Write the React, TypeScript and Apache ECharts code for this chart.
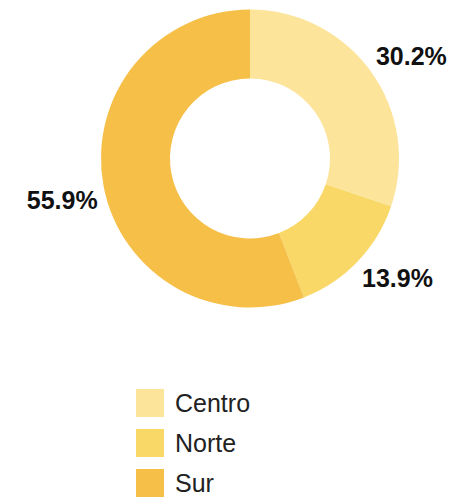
import React, { useEffect, useRef } from "react";
import * as echarts from "echarts";

const categories = ["Centro", "Norte", "Sur"];
const values = [30.2, 13.9, 55.9];
const colors = ["#FCE49B", "#F9D868", "#F6BF47"];

export default function App() {
  const ref = useRef<HTMLDivElement>(null);
  useEffect(() => {
    if (!ref.current) return;
    const chart = echarts.init(ref.current, null, { renderer: "svg" });
    const font = "'Liberation Sans', Arial, sans-serif";
    chart.setOption({
      animation: false,
      legend: {
        orient: "vertical",
        left: 136,
        top: 389,
        padding: 0,
        itemWidth: 28,
        itemHeight: 28,
        itemGap: 12,
        icon: "rect",
        data: categories,
        textStyle: {
          fontFamily: font,
          fontSize: 25,
          color: "#222222",
          padding: [0, 0, 0, 6],
        },
      },
      series: [
        {
          type: "pie",
          center: [250, 158.5],
          radius: [80, 149],
          startAngle: 90,
          clockwise: true,
          avoidLabelOverlap: false,
          itemStyle: { borderWidth: 0 },
          label: {
            show: true,
            position: "outside",
            fontFamily: font,
            fontSize: 25,
            fontWeight: "bold",
            color: "#111111",
            formatter: (p: any) => `${Number(p.value).toFixed(1)}%`,
          },
          labelLine: {
            show: true,
            length: 6,
            length2: 0,
            lineStyle: { color: "rgba(0,0,0,0)", width: 0 },
          },
          labelLayout: (p: any) => {
            const pts = p.labelLinePoints;
            if (!pts || pts.length < 2) return {};
            const [ex, ey] = pts[0];
            const [x, y] = pts[1];
            const dx = x - ex;
            const dy = y - ey;
            return {
              x,
              y,
              align: dx >= 0 ? "left" : "right",
              verticalAlign: dy >= 0 ? "top" : "bottom",
            };
          },
          emphasis: { disabled: true },
          data: categories.map((name, i) => ({
            name,
            value: values[i],
            itemStyle: { color: colors[i] },
          })),
        },
      ],
    });
    return () => chart.dispose();
  }, []);
  return (
    <div
      ref={ref}
      style={{ position: "fixed", left: 0, top: 0, width: 454, height: 497, background: "#fff" }}
    />
  );
}
